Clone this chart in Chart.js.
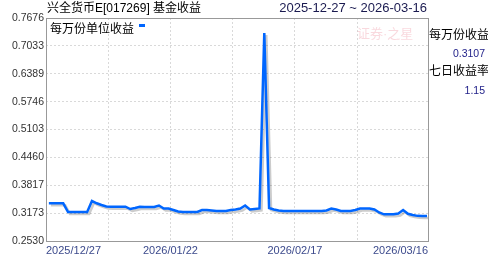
<!DOCTYPE html>
<html>
<head>
<meta charset="utf-8">
<script src="https://cdn.jsdelivr.net/npm/chart.js@4.4.1/dist/chart.umd.min.js"></script>
<style>
    body { margin: 0; background: #fff; }
    #wrap {
        position: relative;
        width: 488px;
        height: 255px;
        font-family: "Liberation Sans", "Noto Sans CJK SC", sans-serif;
    }
    #wrap canvas { position: absolute; left: 0; top: 0; }
    .txt { position: absolute; white-space: nowrap; line-height: 16px; }
    #title { left: 47px; top: 0; font-size: 12px; color: #000; }
    #range { right: 61px; top: 0; font-size: 13px; color: #1a1a50; }
    #stamp { left: 357px; top: 26px; font-size: 13px; color: rgba(235, 130, 145, 0.3); }
    .side { left: 429px; font-size: 12px; color: #000; }
    .num { right: 3px; font-size: 10.5px; color: #22228a; }
</style>
</head>
<body>
<div id="wrap">
    <canvas id="incomeChart" width="488" height="255"></canvas>
    <div class="txt" id="title">兴全货币E[017269] 基金收益</div>
    <div class="txt" id="range">2025-12-27 ~ 2026-03-16</div>
    <div class="txt" id="stamp">证券·之星</div>
    <div class="txt side" style="top: 27px;">每万份收益</div>
    <div class="txt num" id="lastIncome" style="top: 45px;"></div>
    <div class="txt side" style="top: 63px;">七日收益率</div>
    <div class="txt num" id="sevenDay" style="top: 82px;"></div>
</div>
<script>
const dates = [
    "2025-12-27", "2025-12-28", "2025-12-29", "2025-12-30", "2025-12-31", "2026-01-01", "2026-01-02", "2026-01-03",
    "2026-01-04", "2026-01-05", "2026-01-06", "2026-01-07", "2026-01-08", "2026-01-09", "2026-01-10", "2026-01-11",
    "2026-01-12", "2026-01-13", "2026-01-14", "2026-01-15", "2026-01-16", "2026-01-17", "2026-01-18", "2026-01-19",
    "2026-01-20", "2026-01-21", "2026-01-22", "2026-01-23", "2026-01-24", "2026-01-25", "2026-01-26", "2026-01-27",
    "2026-01-28", "2026-01-29", "2026-01-30", "2026-01-31", "2026-02-01", "2026-02-02", "2026-02-03", "2026-02-04",
    "2026-02-05", "2026-02-06", "2026-02-07", "2026-02-08", "2026-02-09", "2026-02-10", "2026-02-11", "2026-02-12",
    "2026-02-13", "2026-02-14", "2026-02-15", "2026-02-16", "2026-02-17", "2026-02-18", "2026-02-19", "2026-02-20",
    "2026-02-21", "2026-02-22", "2026-02-23", "2026-02-24", "2026-02-25", "2026-02-26", "2026-02-27", "2026-02-28",
    "2026-03-01", "2026-03-02", "2026-03-03", "2026-03-04", "2026-03-05", "2026-03-06", "2026-03-07", "2026-03-08",
    "2026-03-09", "2026-03-10", "2026-03-11", "2026-03-12", "2026-03-13", "2026-03-14", "2026-03-15", "2026-03-16",
];

// 每万份单位收益
const incomePer10k = [
    0.3400, 0.3400, 0.3400, 0.3400, 0.3199, 0.3199, 0.3199, 0.3199,
    0.3199, 0.3453, 0.3400, 0.3361, 0.3326, 0.3322, 0.3322, 0.3322,
    0.3322, 0.3268, 0.3292, 0.3322, 0.3315, 0.3315, 0.3315, 0.3349,
    0.3280, 0.3280, 0.3245, 0.3211, 0.3199, 0.3199, 0.3199, 0.3199,
    0.3245, 0.3245, 0.3234, 0.3222, 0.3222, 0.3222, 0.3245, 0.3257,
    0.3280, 0.3349, 0.3257, 0.3268, 0.3280, 0.7330, 0.3292, 0.3257,
    0.3234, 0.3222, 0.3222, 0.3222, 0.3222, 0.3222, 0.3222, 0.3222,
    0.3222, 0.3222, 0.3234, 0.3280, 0.3257, 0.3222, 0.3222, 0.3222,
    0.3245, 0.3280, 0.3280, 0.3280, 0.3257, 0.3188, 0.3146, 0.3146,
    0.3146, 0.3165, 0.3245, 0.3158, 0.3130, 0.3110, 0.3105, 0.3107,
];

const sevenDayYield = 1.15;

const yTicks = [0.2530, 0.3173, 0.3817, 0.4460, 0.5103, 0.5746, 0.6389, 0.7033, 0.7676];
const xGridDays = [0, 13, 26, 39, 52, 65, 79.8];
const xTickLabels = {
    0: "2025/12/27",
    26: "2026/01/22",
    52: "2026/02/17",
    79.8: "2026/03/16",
};

// points sit a little right of their day line in the original
const POINT_SHIFT = 0.6;

document.getElementById("lastIncome").textContent = incomePer10k[incomePer10k.length - 1].toFixed(4);
document.getElementById("sevenDay").textContent = sevenDayYield.toFixed(2);

const frameAndLegend = {
    id: "frameAndLegend",
    beforeDatasetsDraw: (chart) => {
        const { ctx, chartArea: { left, top, right, bottom } } = chart;
        ctx.save();
        ctx.strokeStyle = "#999999";
        ctx.lineWidth = 1;
        ctx.strokeRect(left + 0.5, top + 0.5, right - left, bottom - top);
        ctx.restore();
    },
    beforeDatasetDraw: (chart) => {
        const ctx = chart.ctx;
        ctx.save();
        ctx.shadowColor = "rgba(0, 0, 0, 0.2)";
        ctx.shadowOffsetX = 2;
        ctx.shadowOffsetY = 2;
        ctx.shadowBlur = 0;
    },
    afterDatasetDraw: (chart) => {
        chart.ctx.restore();
    },
    afterDraw: (chart) => {
        const { ctx, chartArea: { left, top } } = chart;
        const ds = chart.data.datasets[0];
        ctx.save();
        ctx.font = '12px "Noto Sans CJK SC"';
        ctx.fillStyle = "#000";
        ctx.textBaseline = "middle";
        ctx.fillText(ds.label, left + 4, top + 10);
        const w = ctx.measureText(ds.label).width;
        ctx.fillStyle = ds.borderColor;
        ctx.fillRect(left + 4 + w + 5, top + 6, 6, 3);
        ctx.restore();
    },
};

const ctx = document.getElementById("incomeChart").getContext("2d");
const incomeChart = new Chart(ctx, {
    type: "line",
    data: {
        datasets: [
            {
                label: "每万份单位收益",
                data: incomePer10k.map((v, i) => ({ x: i + POINT_SHIFT, y: v, date: dates[i] })),
                borderColor: "#0066ff",
                borderWidth: 2.5,
                pointRadius: 0,
                tension: 0,
                fill: false,
            },
        ],
    },
    options: {
        responsive: false,
        animation: false,
        layout: {
            padding: { left: 0, top: 18, right: 60, bottom: 0 },
        },
        plugins: {
            legend: { display: false },
            tooltip: { enabled: false },
        },
        scales: {
            x: {
                type: "linear",
                min: 0,
                max: 79.8,
                afterBuildTicks: (axis) => {
                    axis.ticks = xGridDays.map((v) => ({ value: v }));
                },
                afterFit: (axis) => {
                    axis.height = 14;
                },
                grid: {
                    drawTicks: false,
                    color: (c) =>
                        c.index === 0 || c.index === xGridDays.length - 1 ? "transparent" : "#d9d9d9",
                },
                border: { display: false, dash: [2, 2] },
                ticks: {
                    autoSkip: false,
                    maxRotation: 0,
                    align: "inner",
                    padding: 3,
                    color: "#3c4a8c",
                    font: { family: '"Liberation Sans"', size: 11 },
                    callback: (value) => xTickLabels[value] || "",
                },
            },
            y: {
                min: yTicks[0],
                max: yTicks[yTicks.length - 1],
                afterBuildTicks: (axis) => {
                    axis.ticks = yTicks.map((v) => ({ value: v }));
                },
                afterFit: (axis) => {
                    axis.width = 46;
                },
                grid: {
                    drawTicks: false,
                    color: (c) =>
                        c.index === 0 || c.index === yTicks.length - 1 ? "transparent" : "#d9d9d9",
                },
                border: { display: false, dash: [2, 2] },
                ticks: {
                    padding: 2,
                    color: "#333333",
                    font: { family: '"Liberation Sans"', size: 10.5 },
                    callback: (value) => Number(value).toFixed(4),
                },
            },
        },
    },
    plugins: [frameAndLegend],
});
</script>
</body>
</html>
